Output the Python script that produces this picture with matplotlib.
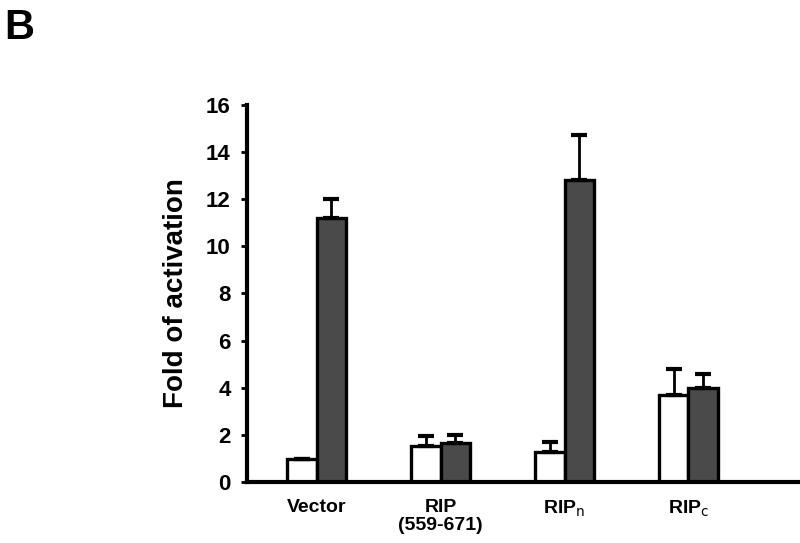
import matplotlib
matplotlib.use("Agg")
import matplotlib.pyplot as plt
import numpy as np

plt.rcParams['font.family'] = ['Liberation Sans', 'DejaVu Sans']

categories = ["Vector", "RIP\n(559-671)", "RIP$_{\\rm n}$", "RIP$_{\\rm c}$"]
white_vals = [1.0, 1.55, 1.27, 3.7]
white_err = [0.0, 0.4, 0.45, 1.1]
gray_vals = [11.2, 1.65, 12.8, 4.0]
gray_err = [0.8, 0.35, 1.9, 0.6]

fig = plt.figure(figsize=(8, 5.43), dpi=100)
ax = fig.add_axes([0.309, 0.112, 0.691, 0.695])

x = np.arange(len(categories))
w = 0.235
ax.bar(x - w / 2, white_vals, w, color="white", edgecolor="black", linewidth=2.4,
       yerr=[np.zeros(4), white_err], error_kw=dict(ecolor="black", elinewidth=2, capsize=6, capthick=3))
ax.bar(x + w / 2, gray_vals, w, color="#4a4a4a", edgecolor="black", linewidth=2.4,
       yerr=[np.zeros(4), gray_err], error_kw=dict(ecolor="black", elinewidth=2, capsize=6, capthick=3))

ax.set_xlim(-0.56, 3.9)
ax.set_ylim(0, 16)
ax.set_yticks(range(0, 17, 2))
ax.set_xticks(x)
ax.set_xticklabels(categories, fontsize=14, fontweight="bold", linespacing=1.1)
ax.tick_params(axis="x", length=0, pad=12)
ax.tick_params(axis="y", length=4, width=2, direction="out", labelsize=16, pad=8)
for lab in ax.get_yticklabels():
    lab.set_fontweight("bold")
ax.set_ylabel("Fold of activation", fontsize=20, fontweight="bold", labelpad=12)

for s in ["top", "right"]:
    ax.spines[s].set_visible(False)
ax.spines["left"].set_linewidth(3)
ax.spines["bottom"].set_linewidth(3)

fig.text(0.005, 0.985, "B", fontsize=30, fontweight="bold", va="top", ha="left")

fig.savefig("out.png", dpi=100)
